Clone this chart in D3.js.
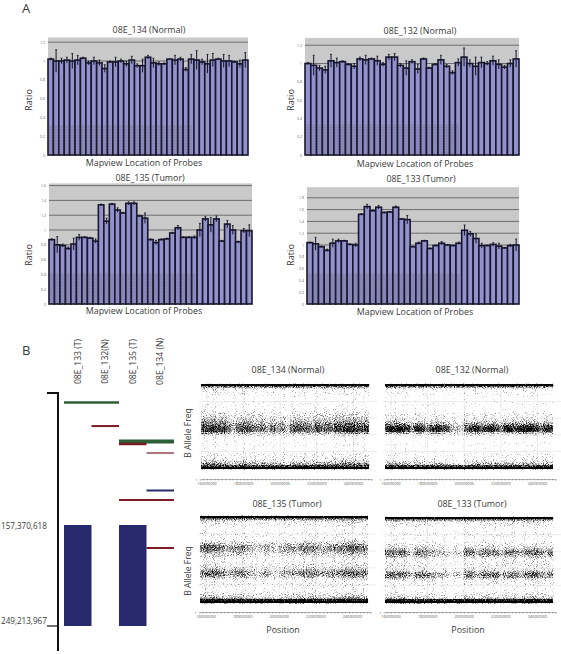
<!DOCTYPE html>
<html><head><meta charset="utf-8">
<script src="https://cdn.jsdelivr.net/npm/d3@7"></script>
<style>html,body{margin:0;padding:0;background:#fff}svg{display:block}text{font-family:"Open Sans",sans-serif;fill:#3a3a3a}</style>
</head><body><svg id="c" width="561" height="654"></svg>
<script>
// ---------- data: panel A (copy-number ratio per probe)
const probes = d3.range(1, 38);
const ratio134 = [1.02,1.0,1.0,1.01,1.0,1.01,1.03,.98,1.0,.98,.92,.99,.99,1.0,.97,1.01,.95,.95,1.04,.98,.97,.97,1.02,1.01,1.02,.91,1.02,1.01,.99,.97,1.01,1.02,1.0,1.0,.99,.97,1.01];
const error134 = [.01,.12,.03,.03,.08,.05,.01,.02,.04,.03,.04,.01,.05,.02,.03,.04,.02,.07,.02,.05,.02,.01,0,.05,.02,.02,.05,.1,.03,.1,.07,.01,.07,.06,.01,.04,.08];
const ratio132 = [1.0,.98,.95,.93,1.03,1.01,1.02,.99,.97,1.05,1.04,1.05,1.03,.99,1.07,1.07,.98,.95,1.02,.94,1.05,.95,.99,1.04,.97,.90,1.01,1.07,1.0,.97,1.01,1.0,1.03,.99,.96,1.0,1.05];
const error132 = [.01,.11,.03,.04,.07,.05,.01,.01,.03,.02,.05,.01,.05,.02,.03,.04,.02,.08,.02,.05,.01,.01,.01,.05,.02,.02,.04,.1,.04,.1,.06,.02,.05,.05,.02,.04,.09];
const ratio135 = [.87,.80,.79,.75,.81,.90,.90,.89,.85,1.34,1.12,1.35,1.27,1.23,1.36,1.36,1.19,1.16,.87,.83,.87,.88,.96,1.03,.90,.90,.90,1.0,1.15,1.07,1.15,.85,1.08,1.0,.84,.99,.99];
const error135 = [.01,.11,.02,.02,.08,.04,.01,.01,.03,.01,.04,.01,.03,.01,.02,.02,.01,.07,.01,.03,.01,.01,.01,.03,.01,.01,.02,.09,.03,.1,.04,.01,.05,.06,.01,.03,.08];
const ratio133 = [1.04,1.02,.97,.91,1.03,1.07,1.07,1.01,1.0,1.52,1.65,1.58,1.64,1.55,1.56,1.64,1.44,1.43,.97,1.03,1.07,.94,.99,1.03,1.0,.99,1.03,1.25,1.19,1.11,.99,.99,1.01,.98,.95,.99,1.0];
const error133 = [.01,.11,.01,.02,.07,.03,.01,.01,.03,.01,.04,.01,.03,.01,.01,.02,.01,.07,.01,.02,.01,.01,.01,.03,.01,.01,.02,.09,.04,.08,.04,.01,.03,.05,.01,.02,.1];
const ticks134 = [0,.2,.4,.6,.8,1,1.2];
const ticks135 = [0,.2,.4,.6,.8,1,1.2,1.4,1.6];
const ticks133 = [0,.2,.4,.6,.8,1,1.2,1.4,1.6,1.8];

// ---------- data: panel B, ideogram calls (start/end sample, position in Mb)
const samples = ["08E_133 (T)","08E_132(N)","08E_135 (T)","08E_134 (N)"];
const segmentFrom = [0,1,2,2,3,3,2,3];
const segmentTo   = [1,1,3,2,3,3,3,3];
const segmentMb   = [46,67.4,81.5,83.7,91.9,126,134.6,178.3];
const segmentType = ["gain","loss","gain","loss","loss","gainB","loss","loss"];
const segmentThick= [2.5,2,4,2.5,1.2,2,2,2];
const blockSample = [0,2];
const blockStart  = [157.37,157.37];
const blockEnd    = [249.21,249.21];

// ---------- data: panel B, B-allele-frequency density read by eye
// darkness per frequency bin from BAF 0 (bottom) to 1 (top)
const density134 = [1,.62,.38,.26,.19,.14,.1,.07,.05,.04,.04,.03,.03,.04,.05,.08,.14,.36,.56,.58,.54,.46,.38,.32,.25,.2,.16,.13,.1,.07,.05,.04,.04,.04,.05,.06,.08,.1,.16,.38,1];
const density132 = [1,.62,.3,.2,.14,.1,.07,.04,.03,.02,.02,.02,.02,.02,.03,.05,.1,.32,.62,.66,.6,.42,.28,.2,.15,.12,.1,.07,.05,.03,.02,.02,.02,.02,.03,.03,.05,.07,.12,.38,1];
const density135 = [1,.72,.32,.2,.15,.12,.1,.09,.09,.1,.13,.2,.32,.42,.42,.32,.22,.16,.13,.12,.13,.16,.2,.26,.36,.42,.42,.32,.22,.15,.1,.08,.07,.06,.06,.07,.09,.12,.2,.42,1];
const density133 = [1,.7,.26,.16,.12,.09,.08,.07,.08,.1,.14,.24,.38,.44,.38,.24,.15,.12,.11,.12,.14,.2,.3,.4,.42,.32,.22,.15,.1,.08,.07,.06,.06,.06,.06,.07,.08,.1,.16,.38,1];
// relative density along the chromosome (one value per column bin)
const along134 = [1.1,1.1,1.2,1.1,1.1,.9,.6,.9,1,1,.9,.8,.9,.6,.9,.7,.8,.5,.9,1,1,.9,.8,1,.9,1,.9,1.1,1.1,1.2,1.2,1.1,1,1.1];
const along132 = [1.1,1.1,1.2,1.1,1,.7,1.1,1,.7,1,1.1,1,.9,.6,.5,.4,.9,1,1.1,.9,1,1.1,1,.7,1.1,1.1,1,1.1,1.2,1.2,1.1,.8,1.1,1];
const along135 = [1.1,1.2,1.2,1.2,1,.8,.9,1,1.1,.9,.7,.6,.7,.9,.7,.5,.8,.9,.9,.8,1,1.1,1.1,1,.9,.8,1,1,1.1,1.2,1.3,1.2,1.1,1];
const along133 = [1.1,1.2,1.1,1.2,.9,.6,1.1,1.1,1,.9,.7,.8,.6,.4,.6,.5,1.1,1.1,.7,1,1.1,1.1,1.1,.7,1,1.1,1,.8,1.1,1.2,1.2,1,.8,1.1];
const positionTicks = [160000000,180000000,200000000,220000000,240000000];
const bafGrid = [.2,.4,.6,.8];

// ---------- drawing
const svg = d3.select("#c");
// stipple texture: turns a smooth density into fine dots, only inside the drawn cells
const flt = svg.append("defs").append("filter").attr("id","stipple")
  .attr("filterUnits","userSpaceOnUse").attr("x",190).attr("y",375).attr("width",371).attr("height",240)
  .attr("color-interpolation-filters","sRGB");
flt.append("feTurbulence").attr("type","fractalNoise").attr("baseFrequency",1.1).attr("numOctaves",1).attr("seed",3).attr("result","n");
flt.append("feColorMatrix").attr("in","n").attr("type","matrix")
  .attr("values","0 0 0 0 0  0 0 0 0 0  0 0 0 0 0  1.6 0 0 0 -.3").attr("result","na");
flt.append("feComposite").attr("in","SourceAlpha").attr("in2","na").attr("operator","arithmetic")
  .attr("k1",0).attr("k2",1.25).attr("k3",1).attr("k4",-.77).attr("result","sum");
flt.append("feComponentTransfer").attr("in","sum").attr("result","dots")
  .append("feFuncA").attr("type","linear").attr("slope",1.5).attr("intercept",0);
flt.append("feComponentTransfer").attr("in","SourceAlpha").attr("result","mask")
  .append("feFuncA").attr("type","linear").attr("slope",100).attr("intercept",0);
flt.append("feComposite").attr("in","dots").attr("in2","mask").attr("operator","in");

const label = (x,y,t,size,opts={}) => {
  const s = svg.append("text").attr("text-anchor",opts.anchor||"middle").attr("font-size",size).text(t);
  if (opts.rot) s.attr("transform",`translate(${x},${y}) rotate(${opts.rot})`);
  else s.attr("x",x).attr("y",y);
  return s;
};

function barPanel(p){
  const x = d3.scaleBand().domain(probes).range([p.x0,p.x1]);
  const y = d3.scaleLinear().domain([0,p.vTop]).range([p.yZero,p.yTop]);
  const g = svg.append("g");
  g.append("rect").attr("x",p.x0).attr("y",y(p.vMax)).attr("width",p.x1-p.x0).attr("height",p.yZero-y(p.vMax)).attr("fill","#c9c9c9");
  g.selectAll(".grid").data(p.ticks.filter(d=>d>0)).join("line")
    .attr("x1",p.x0).attr("x2",p.x1).attr("y1",d=>y(d)).attr("y2",d=>y(d)).attr("stroke","#555").attr("stroke-width",.8);
  g.selectAll(".bar").data(p.values).join("rect")
    .attr("x",(d,i)=>x(probes[i])).attr("width",x.bandwidth())
    .attr("y",d=>y(d)).attr("height",d=>p.yZero-y(d))
    .attr("fill","#9492cc").attr("stroke","#17162c").attr("stroke-width",1.6);
  // faint overlay lying across the lower bars
  g.append("rect").attr("x",p.x0).attr("width",(p.x1-p.x0)*p.ovW).attr("y",y(p.ov)).attr("height",p.yZero-y(p.ov)).attr("fill","#444").attr("opacity",.09);
  g.selectAll(".ov").data(d3.range(0,p.ov,.03)).join("line")
    .attr("x1",p.x0).attr("x2",p.x0+(p.x1-p.x0)*p.ovW).attr("y1",d=>y(d)).attr("y2",d=>y(d))
    .attr("stroke","#333").attr("stroke-opacity",.1).attr("stroke-width",.8);
  // error bars
  const cx = i => x(probes[i])+x.bandwidth()/2;
  g.selectAll(".err").data(p.values).join("line")
    .attr("x1",(d,i)=>cx(i)).attr("x2",(d,i)=>cx(i))
    .attr("y1",(d,i)=>y(d+p.errors[i])).attr("y2",(d,i)=>y(d-p.errors[i]))
    .attr("stroke","#17162c").attr("stroke-width",1);
  g.selectAll(".cap").data(p.values).join("line")
    .attr("x1",(d,i)=>cx(i)-1).attr("x2",(d,i)=>cx(i)+1)
    .attr("y1",(d,i)=>y(d+p.errors[i])).attr("y2",(d,i)=>y(d+p.errors[i]))
    .attr("stroke","#17162c").attr("stroke-width",.8);
  // axis
  const ax = g.append("g").attr("transform",`translate(${p.x0},0)`)
    .call(d3.axisLeft(y).tickValues(p.ticks).tickSize(0).tickPadding(3).tickFormat(d3.format("~g")));
  ax.select(".domain").remove();
  ax.selectAll("text").attr("font-size",3.6).style("fill","#666");
  label(p.titleX,p.titleY,p.title,8.9);
  label(p.labelX,p.labelY,"Mapview Location of Probes",8.9);
  label(p.ratioX,p.ratioY,"Ratio",9.2,{rot:-90});
}

barPanel({title:"08E_134 (Normal)",values:ratio134,errors:error134,ticks:ticks134,x0:48,x1:248,yZero:155,yTop:61,vTop:1,vMax:1.25,ov:.32,ovW:.72,titleX:149,titleY:33,labelX:144,labelY:166,ratioX:32,ratioY:100});
barPanel({title:"08E_132 (Normal)",values:ratio132,errors:error132,ticks:ticks134,x0:305,x1:519,yZero:155,yTop:63.5,vTop:1,vMax:1.28,ov:.33,ovW:.72,titleX:420,titleY:34,labelX:415,labelY:167,ratioX:294,ratioY:100});
barPanel({title:"08E_135 (Tumor)",values:ratio135,errors:error135,ticks:ticks135,x0:49,x1:252,yZero:304,yTop:230,vTop:1,vMax:1.63,ov:.42,ovW:.72,titleX:150,titleY:181,labelX:144,labelY:314,ratioX:32,ratioY:255});
barPanel({title:"08E_133 (Tumor)",values:ratio133,errors:error133,ticks:ticks133,x0:307,x1:519,yZero:304,yTop:245,vTop:1,vMax:1.98,ov:.52,ovW:.72,titleX:421,titleY:182,labelX:415,labelY:315,ratioX:294,ratioY:255});

label(22,13,"A",13,{anchor:"start"});
label(22,355,"B",13,{anchor:"start"});

// ideogram
const col = d3.scaleBand().domain(d3.range(4)).range([64,174]);
const mb = d3.scaleLinear().domain([157.37,249.21]).range([525,626]);
const segColor = {gain:"#2c5f36",loss:"#7a1c26",gainB:"#28296e"};
samples.forEach((s,i)=>{ label(col(i)+col.bandwidth()/2+3,361.5,s,8.6,{rot:-90}); });
svg.selectAll(".blk").data(blockSample).join("rect")
  .attr("x",d=>col(d)).attr("width",col.bandwidth()).attr("fill","#27296d")
  .attr("y",(d,i)=>mb(blockStart[i])).attr("height",(d,i)=>mb(blockEnd[i])-mb(blockStart[i]));
svg.selectAll(".seg").data(segmentMb).join("line")
  .attr("x1",(d,i)=>col(segmentFrom[i])).attr("x2",(d,i)=>col(segmentTo[i])+col.bandwidth())
  .attr("y1",d=>mb(d)).attr("y2",d=>mb(d))
  .attr("stroke",(d,i)=>segColor[segmentType[i]]).attr("stroke-width",(d,i)=>segmentThick[i]);
const bracket = d3.path();
bracket.moveTo(47,mb(37.3)); bracket.lineTo(58,mb(37.3)); bracket.lineTo(58,mb(271.9));
svg.append("path").attr("d",bracket.toString()).attr("fill","none").attr("stroke","#111").attr("stroke-width",2);
svg.append("line").attr("x1",47).attr("x2",58).attr("y1",mb(249.21)).attr("y2",mb(249.21)).attr("stroke","#111").attr("stroke-width",1.2);
label(1,528.5,"157,370,618",8.1,{anchor:"start"});
label(1,624,"249,213,967",8.1,{anchor:"start"});

function scatterPanel(p){
  const x = d3.scaleLinear().domain([156.7e6,249.6e6]).range([p.x0,p.x0+170]);
  const y = d3.scaleLinear().domain([0,1]).range([p.yBottom,p.yTop]);
  const g = svg.append("g");
  g.selectAll(".gv").data(positionTicks).join("line").attr("x1",d=>x(d)).attr("x2",d=>x(d)).attr("y1",p.yTop-3).attr("y2",p.yBottom+5).attr("stroke","#e4e4e4").attr("stroke-width",.7);
  g.selectAll(".gh").data(bafGrid).join("line").attr("x1",p.x0-2).attr("x2",p.x0+176).attr("y1",d=>y(d)).attr("y2",d=>y(d)).attr("stroke","#e4e4e4").attr("stroke-width",.7);
  const nb = p.density.length, cols = p.along.length;
  const binX = d3.scaleBand().domain(d3.range(cols)).range([p.x0,p.x0+168]);
  const binY = d => y(d/(nb-1));
  const h = (p.yBottom-p.yTop)/(nb-1);
  const cells = [];
  p.density.forEach((v,r)=>p.along.forEach((m,c)=>cells.push({r,c,o:(r<2||r>nb-3)?v:Math.min(1,v*m)})));
  g.append("g").attr("filter","url(#stipple)").selectAll(".cell").data(cells).join("rect")
    .attr("x",d=>binX(d.c)).attr("width",binX.bandwidth()+.2)
    .attr("y",d=>binY(d.r)-h/2).attr("height",h+.2)
    .attr("fill","#000").attr("opacity",d=>d.o);
  const axisG = g.append("g").attr("transform",`translate(0,${p.yAxis})`)
    .call(d3.axisBottom(x).tickValues(d3.range(154e6,252e6,2e6).filter(d=>x(d)>p.x0-6&&x(d)<p.x0+172)).tickSize(1.5).tickFormat(""));
  axisG.selectAll("line,path").attr("stroke","#444").attr("stroke-width",.4);
  g.selectAll(".pt").data(positionTicks).join("text").attr("x",d=>x(d)).attr("y",p.yAxis+5.5)
    .attr("text-anchor","middle").attr("font-size",3.8).style("fill","#555").text(d=>d);
  label(p.x0+87,p.titleY,p.title,8.9);
  if (p.xLabel) label(p.x0+83,p.yAxis+21,"Position",8.9);
  if (p.yLabel) label(190.5,p.yLabelAt,"B Allele Freq",8.6,{rot:-90});
}
scatterPanel({title:"08E_134 (Normal)",density:density134,along:along134,x0:201,yTop:385,yBottom:468,yAxis:479,titleY:373,yLabel:true,yLabelAt:433});
scatterPanel({title:"08E_132 (Normal)",density:density132,along:along132,x0:385,yTop:385,yBottom:468,yAxis:479,titleY:373});
scatterPanel({title:"08E_135 (Tumor)",density:density135,along:along135,x0:200,yTop:517,yBottom:602,yAxis:612,titleY:507,yLabel:true,xLabel:true,yLabelAt:571});
scatterPanel({title:"08E_133 (Tumor)",density:density133,along:along133,x0:385,yTop:518,yBottom:602,yAxis:612,titleY:507,xLabel:true});
</script></body></html>
